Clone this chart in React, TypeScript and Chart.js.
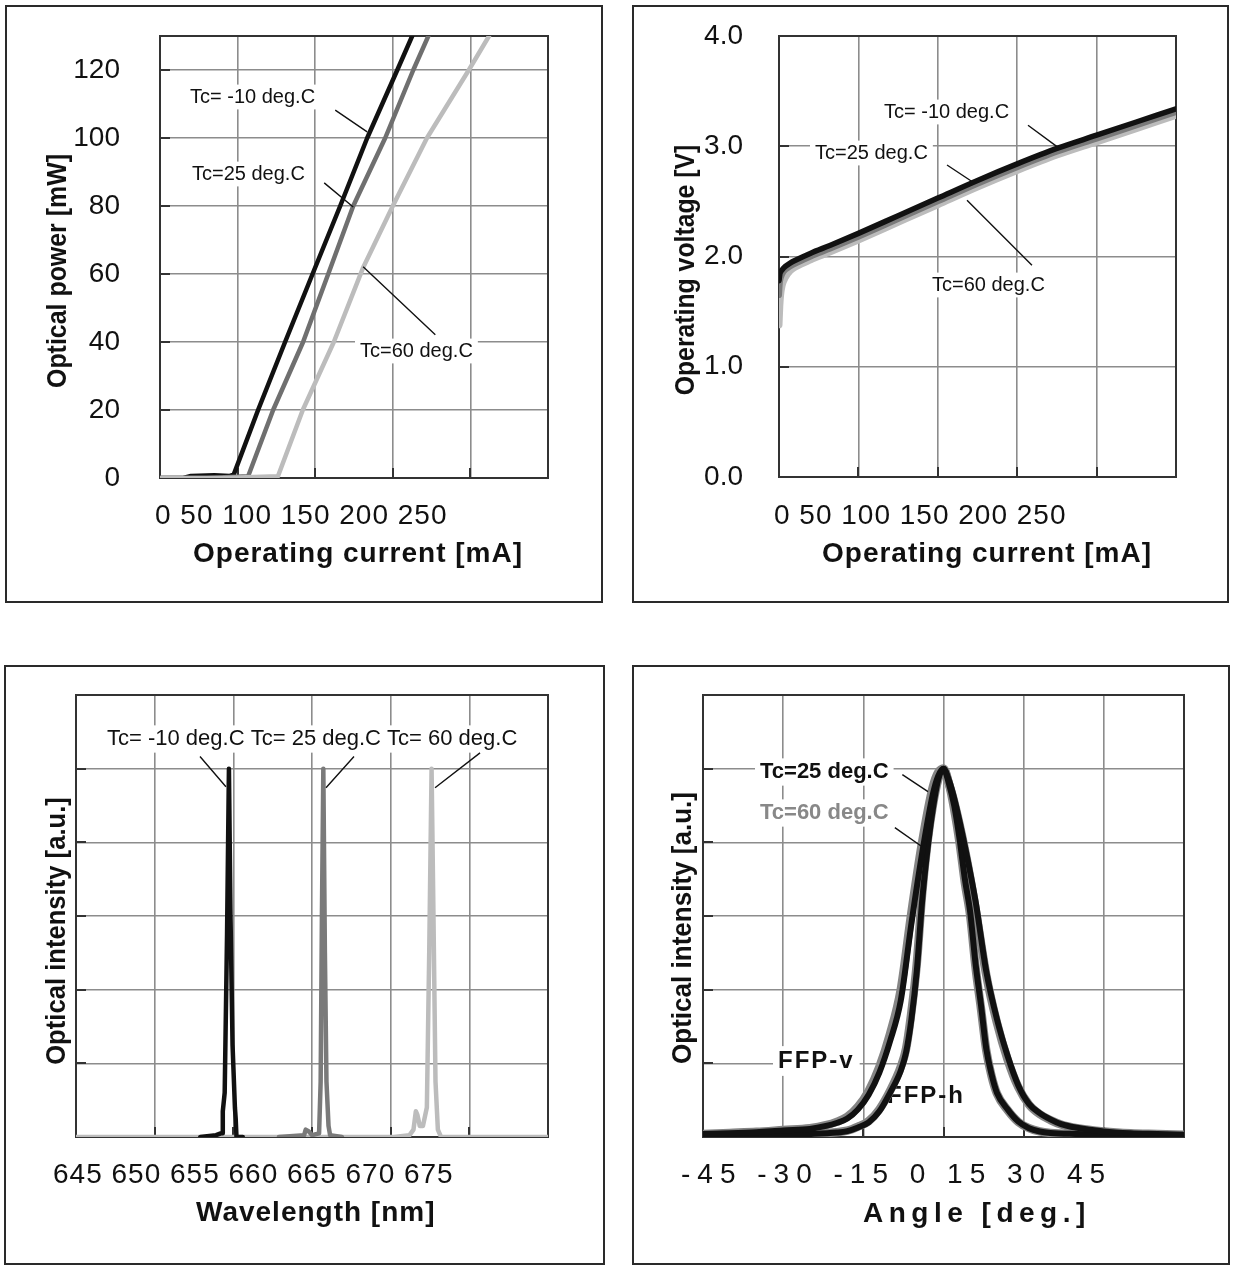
import React, { useEffect, useRef } from 'react';
import { Chart, registerables } from 'chart.js';

Chart.register(...registerables);

const FAMILY = "'Liberation Sans', Arial, sans-serif";
Chart.defaults.font.family = FAMILY;

// ---------- Panel 1: L-I curves ----------
const liCurrentM10 = [0, 15, 20, 35, 45, 47.5, 63.2, 80.6, 98.3, 116.1, 133.5, 152.9, 162.5];
const liPowerM10 = [0, 0, 0.6, 0.8, 0.6, 1.0, 20, 40, 60, 80, 100, 120, 130];
const liCurrent25 = [0, 30, 56.8, 72.9, 92.2, 108.4, 124.5, 145.1, 163.2, 172.9];
const liPower25 = [0, 0, 0.5, 20, 40, 60, 80, 100, 120, 130];
const liCurrent60 = [0, 40, 76, 92, 112, 131, 150, 172, 199, 212];
const liPower60 = [0, 0, 0.5, 20, 40, 62, 80, 100, 120, 130];
const liXTickText = '0 50 100 150 200 250';

// ---------- Panel 2: V-I curves ----------
const ivCurrent = [0, 0.5, 1, 2, 4, 7, 11, 20, 32, 50, 75, 100, 125, 150, 175, 200, 225, 250];
const ivVoltM10 = [1.78, 1.84, 1.86, 1.88, 1.91, 1.94, 1.97, 2.03, 2.1, 2.21, 2.37, 2.53, 2.69, 2.84, 2.98, 3.1, 3.22, 3.34];
const ivVolt25 = [1.65, 1.76, 1.8, 1.84, 1.88, 1.91, 1.94, 2.0, 2.07, 2.18, 2.34, 2.5, 2.66, 2.81, 2.95, 3.07, 3.19, 3.31];
const ivVolt60 = [1.38, 1.55, 1.65, 1.74, 1.81, 1.87, 1.91, 1.97, 2.04, 2.15, 2.31, 2.47, 2.63, 2.78, 2.92, 3.04, 3.16, 3.28];
const ivXTickText = '0 50 100 150 200 250';

// ---------- Panel 3: spectra ----------
const specWlM10 = [652.9, 653.9, 654.2, 654.3, 654.33, 654.45, 654.6, 654.72, 654.82, 654.95, 655.1, 655.15, 655.2, 655.6];
const specIntM10 = [0, 0.005, 0.01, 0.01, 0.07, 0.12, 0.55, 1.0, 0.6, 0.25, 0.08, 0.05, 0.0, 0];
const specWl25 = [657.9, 659.5, 659.6, 659.8, 660.0, 660.45, 660.55, 660.63, 660.72, 660.82, 660.92, 661.05, 661.15, 661.9];
const specInt25 = [0, 0.005, 0.02, 0.015, 0.005, 0.01, 0.15, 0.6, 1.0, 0.5, 0.15, 0.03, 0.005, 0];
const specWl60 = [645, 665.2, 666.2, 666.45, 666.6, 666.7, 666.85, 667.05, 667.3, 667.45, 667.6, 667.72, 667.85, 668.0, 668.2, 675];
const specInt60 = [0, 0, 0.005, 0.02, 0.07, 0.06, 0.03, 0.03, 0.08, 0.5, 1.0, 0.6, 0.15, 0.02, 0, 0];
const specXTickText = '645 650 655 660 665 670 675';

// ---------- Panel 4: far field patterns ----------
const ffpVAngle = [-45, -40, -35, -30, -25, -22, -20, -18, -16, -14, -12, -10, -8, -6, -4, -2, -1, 0, 1, 2, 4, 6, 8, 10, 12, 14, 16, 18, 20, 22, 25, 30, 35, 40, 45];
const ffpV25 = [0.008, 0.01, 0.013, 0.018, 0.022, 0.03, 0.038, 0.05, 0.075, 0.115, 0.175, 0.26, 0.37, 0.58, 0.77, 0.93, 0.98, 1.0, 0.97, 0.92, 0.79, 0.64, 0.45, 0.32, 0.22, 0.14, 0.09, 0.065, 0.048, 0.035, 0.025, 0.015, 0.01, 0.008, 0.006];
const ffpV60 = [0.008, 0.011, 0.014, 0.019, 0.024, 0.032, 0.041, 0.055, 0.082, 0.125, 0.19, 0.28, 0.4, 0.61, 0.8, 0.95, 0.99, 1.0, 0.96, 0.91, 0.78, 0.62, 0.44, 0.31, 0.21, 0.135, 0.088, 0.062, 0.046, 0.034, 0.024, 0.015, 0.01, 0.008, 0.006];
const ffpHAngle = [-45, -35, -30, -25, -20, -18, -16, -14, -12, -10, -8, -7, -6, -5, -4, -3, -2, -1, 0, 1, 2, 3, 4, 5, 6, 7, 8, 9, 10, 12, 14, 16, 18, 20, 25, 30, 35, 45];
const ffpH25 = [0.004, 0.005, 0.006, 0.008, 0.012, 0.016, 0.026, 0.04, 0.07, 0.12, 0.18, 0.23, 0.32, 0.45, 0.64, 0.78, 0.89, 0.97, 1.0, 0.96, 0.9, 0.81, 0.7, 0.61, 0.47, 0.36, 0.24, 0.17, 0.12, 0.075, 0.042, 0.024, 0.015, 0.011, 0.008, 0.006, 0.005, 0.004];
const ffpH60 = [0.004, 0.005, 0.006, 0.008, 0.013, 0.017, 0.028, 0.043, 0.075, 0.125, 0.19, 0.24, 0.34, 0.47, 0.66, 0.8, 0.9, 0.97, 1.0, 0.96, 0.89, 0.8, 0.69, 0.6, 0.46, 0.35, 0.235, 0.165, 0.118, 0.073, 0.041, 0.024, 0.015, 0.011, 0.008, 0.006, 0.005, 0.004];
const ffpXTickText = '-45 -30 -15 0 15 30 45';

const BLACK = '#111111';
const LIGHT = '#bcbcbc';

const pts = (xs: number[], ys: number[]) => xs.map((x, i) => ({ x, y: ys[i] }));

type TextSpec = {
  t: string; x: number; y: number; size: number; bold?: boolean; color?: string;
  bg?: boolean; ls?: number; rot?: boolean; sx?: number;
};

type PanelSpec = {
  box: [number, number, number, number];
  plot: [number, number, number, number];
  x: { min: number; max: number; step: number };
  y: { min: number; max: number; step: number; labels: boolean; padding?: number; hideMax?: boolean; fixed?: number };
  datasets: any[];
  texts: TextSpec[];
  textsBelow?: TextSpec[];
  leaders: [number, number, number, number][];
};

function drawText(ctx: CanvasRenderingContext2D, s: TextSpec, ox: number, oy: number) {
  ctx.save();
  ctx.font = `${s.bold ? 'bold ' : ''}${s.size}px ${FAMILY}`;
  (ctx as any).letterSpacing = `${s.ls || 0}px`;
  const color = s.color || BLACK;
  const x = s.x - ox;
  const y = s.y - oy;
  if (s.rot) {
    ctx.translate(x, y);
    ctx.rotate(-Math.PI / 2);
    ctx.scale(s.sx || 1, 1);
    ctx.textAlign = 'center';
    ctx.textBaseline = 'alphabetic';
    ctx.fillStyle = color;
    ctx.fillText(s.t, 0, 0);
  } else {
    ctx.textAlign = 'left';
    ctx.textBaseline = 'middle';
    if (s.bg) {
      const w = ctx.measureText(s.t).width;
      ctx.fillStyle = '#ffffff';
      ctx.fillRect(x - 5, y - s.size * 0.62, w + 10, s.size * 1.24);
    }
    ctx.fillStyle = color;
    ctx.fillText(s.t, x, y);
  }
  ctx.restore();
}

function decorPlugin(spec: PanelSpec, ox: number, oy: number) {
  return {
    id: 'panelDecor',
    beforeDatasetsDraw(chart: any) {
      const { ctx, chartArea: a, scales } = chart;
      ctx.save();
      ctx.strokeStyle = '#333';
      ctx.lineWidth = 2;
      ctx.beginPath();
      scales.y.ticks.forEach((t: any) => {
        if (t.value > scales.y.min && t.value < scales.y.max) {
          const py = Math.round(scales.y.getPixelForValue(t.value));
          ctx.moveTo(a.left, py);
          ctx.lineTo(a.left + 10, py);
        }
      });
      scales.x.ticks.forEach((t: any) => {
        if (t.value > scales.x.min && t.value < scales.x.max) {
          const px = Math.round(scales.x.getPixelForValue(t.value));
          ctx.moveTo(px, a.bottom);
          ctx.lineTo(px, a.bottom - 10);
        }
      });
      ctx.stroke();
      ctx.strokeRect(a.left, a.top, a.right - a.left, a.bottom - a.top);
      (spec.textsBelow || []).forEach((s) => drawText(ctx, s, ox, oy));
      ctx.restore();
    },
    afterDatasetsDraw(chart: any) {
      const { ctx, scales, chartArea: a } = chart;
      if (spec.y.labels) {
        ctx.save();
        ctx.font = `28px ${FAMILY}`;
        ctx.fillStyle = BLACK;
        ctx.textAlign = 'right';
        ctx.textBaseline = 'middle';
        scales.y.ticks.forEach((t: any) => {
          if (spec.y.hideMax && t.value === spec.y.max) return;
          const label = spec.y.fixed !== undefined ? Number(t.value).toFixed(spec.y.fixed) : String(t.value);
          ctx.fillText(label, a.left - (spec.y.padding || 0), scales.y.getPixelForValue(t.value));
        });
        ctx.restore();
      }
      spec.texts.forEach((s) => drawText(ctx, s, ox, oy));
      ctx.save();
      ctx.strokeStyle = '#111';
      ctx.lineWidth = 1.4;
      ctx.beginPath();
      spec.leaders.forEach(([x1, y1, x2, y2]) => {
        ctx.moveTo(scales.x.getPixelForValue(x1), scales.y.getPixelForValue(y1));
        ctx.lineTo(scales.x.getPixelForValue(x2), scales.y.getPixelForValue(y2));
      });
      ctx.stroke();
      ctx.restore();
    },
  };
}

function buildConfig(spec: PanelSpec): any {
  const ox = spec.box[0] + 2;
  const oy = spec.box[1] + 2;
  const W = spec.box[2] - 4;
  const H = spec.box[3] - 4;
  const [pl, pt, pr, pb] = spec.plot;
  const grid = { color: '#8c8c8c', lineWidth: 1.6, drawTicks: false };
  return {
    type: 'line',
    data: { datasets: spec.datasets },
    options: {
      responsive: false,
      maintainAspectRatio: false,
      animation: false,
      events: [],
      layout: { padding: { left: 0, top: pt - oy, right: ox + W - pr, bottom: 0 } },
      plugins: { legend: { display: false }, tooltip: { enabled: false }, title: { display: false } },
      elements: { point: { radius: 0 }, line: { borderJoinStyle: 'round', borderCapStyle: 'round' } },
      scales: {
        x: {
          type: 'linear',
          min: spec.x.min,
          max: spec.x.max,
          ticks: { stepSize: spec.x.step, display: false },
          grid,
          border: { display: false },
          afterFit: (s: any) => { s.height = oy + H - pb; },
        },
        y: {
          type: 'linear',
          min: spec.y.min,
          max: spec.y.max,
          ticks: { stepSize: spec.y.step, display: false },
          grid,
          border: { display: false },
          afterFit: (s: any) => { s.width = pl - ox; },
        },
      },
    },
    plugins: [decorPlugin(spec, ox, oy)],
  };
}

const line = (data: any[], color: string, width: number, order: number, extra: any = {}) => ({
  data, borderColor: color, backgroundColor: color, borderWidth: width, fill: false, pointRadius: 0, order, ...extra,
});

const panels: PanelSpec[] = [
  {
    box: [5, 5, 598, 598],
    plot: [160, 36, 548, 478],
    x: { min: 0, max: 250, step: 50 },
    y: { min: 0, max: 130, step: 20, labels: true, padding: 40, hideMax: true },
    datasets: [
      line(pts(liCurrent60, liPower60), LIGHT, 4.5, 0),
      line(pts(liCurrent25, liPower25), '#6f6f6f', 4.5, 1),
      line(pts(liCurrentM10, liPowerM10), BLACK, 4.5, 2),
    ],
    texts: [
      { t: liXTickText, x: 155, y: 516, size: 28, ls: 1 },
      { t: 'Operating current [mA]', x: 193, y: 554, size: 28, bold: true, ls: 1 },
      { t: 'Optical power [mW]', x: 66, y: 271, size: 28, bold: true, rot: true, sx: 0.89 },
      { t: 'Tc= -10 deg.C', x: 190, y: 97, size: 20, bg: true },
      { t: 'Tc=25 deg.C', x: 192, y: 174, size: 20, bg: true },
      { t: 'Tc=60 deg.C', x: 360, y: 351, size: 20, bg: true },
    ],
    leaders: [
      [112.9, 108.2, 133.5, 101.8],
      [105.8, 86.8, 124.5, 79.7],
      [130.9, 62.1, 177.4, 42.1],
    ],
  },
  {
    box: [632, 5, 597, 598],
    plot: [779, 36, 1176, 477],
    x: { min: 0, max: 250, step: 50 },
    y: { min: 0, max: 4, step: 1, labels: true, padding: 36, fixed: 1 },
    datasets: [
      line(pts(ivCurrent, ivVoltM10), BLACK, 5.5, 0, { cubicInterpolationMode: 'monotone' }),
      line(pts(ivCurrent, ivVolt25), '#7a7a7a', 6, 1, { cubicInterpolationMode: 'monotone' }),
      line(pts(ivCurrent, ivVolt60), LIGHT, 7, 2, { cubicInterpolationMode: 'monotone' }),
    ],
    texts: [
      { t: ivXTickText, x: 774, y: 516, size: 28, ls: 1 },
      { t: 'Operating current [mA]', x: 822, y: 554, size: 28, bold: true, ls: 1 },
      { t: 'Operating voltage [V]', x: 694, y: 270, size: 28, bold: true, rot: true, sx: 0.885 },
      { t: 'Tc= -10 deg.C', x: 884, y: 112, size: 20, bg: true },
      { t: 'Tc=25 deg.C', x: 815, y: 153, size: 20, bg: true },
      { t: 'Tc=60 deg.C', x: 932, y: 285, size: 20, bg: true },
    ],
    leaders: [
      [156.8, 3.19, 175.7, 2.99],
      [105.8, 2.83, 121.5, 2.68],
      [118.4, 2.51, 159.3, 1.92],
    ],
  },
  {
    box: [4, 665, 601, 600],
    plot: [76, 695, 548, 1137],
    x: { min: 645, max: 675, step: 5 },
    y: { min: 0, max: 1.2, step: 0.2, labels: false },
    datasets: [
      line(pts(specWlM10, specIntM10), BLACK, 4.5, 0),
      line(pts(specWl25, specInt25), '#7a7a7a', 4.5, 1),
      line(pts(specWl60, specInt60), LIGHT, 4.5, 2),
    ],
    texts: [
      { t: specXTickText, x: 53, y: 1175, size: 28, ls: 1 },
      { t: 'Wavelength [nm]', x: 196, y: 1213, size: 28, bold: true, ls: 1 },
      { t: 'Optical intensity [a.u.]', x: 65, y: 931, size: 28, bold: true, rot: true, sx: 0.915 },
      { t: 'Tc= -10 deg.C Tc= 25 deg.C Tc= 60 deg.C', x: 107, y: 739, size: 22, bg: true },
    ],
    leaders: [
      [652.88, 1.033, 654.53, 0.951],
      [662.67, 1.033, 660.89, 0.948],
      [670.68, 1.043, 667.82, 0.948],
    ],
  },
  {
    box: [632, 665, 598, 600],
    plot: [703, 695, 1184, 1137],
    x: { min: -45, max: 45, step: 15 },
    y: { min: 0, max: 1.2, step: 0.2, labels: false },
    datasets: [
      line(pts(ffpVAngle, ffpV25), BLACK, 6, 0, { cubicInterpolationMode: 'monotone' }),
      line(pts(ffpHAngle, ffpH25), BLACK, 6, 1, { cubicInterpolationMode: 'monotone' }),
      line(pts(ffpVAngle, ffpV60), '#858585', 8.5, 2, { cubicInterpolationMode: 'monotone' }),
      line(pts(ffpHAngle, ffpH60), '#858585', 8.5, 3, { cubicInterpolationMode: 'monotone' }),
    ],
    textsBelow: [
      { t: 'FFP-h', x: 887, y: 1096, size: 24, bold: true, ls: 2 },
    ],
    texts: [
      { t: ffpXTickText, x: 681, y: 1175, size: 28, ls: 7 },
      { t: 'Angle [deg.]', x: 863, y: 1214, size: 28, bold: true, ls: 5.5 },
      { t: 'Optical intensity [a.u.]', x: 691, y: 928, size: 28, bold: true, rot: true, sx: 0.93 },
      { t: 'Tc=25 deg.C', x: 760, y: 772, size: 22, bold: true, bg: true },
      { t: 'Tc=60 deg.C', x: 760, y: 813, size: 22, bold: true, bg: true, color: '#888888' },
      { t: 'FFP-v', x: 778, y: 1061, size: 24, bold: true, ls: 2, bg: true },
    ],
    leaders: [
      [-7.7, 0.984, -2.9, 0.9375],
      [-9.1, 0.84, -4.0, 0.788],
    ],
  },
];

function Panel({ spec }: { spec: PanelSpec }) {
  const ref = useRef<HTMLCanvasElement>(null);
  useEffect(() => {
    if (!ref.current) return;
    const chart = new Chart(ref.current, buildConfig(spec));
    return () => chart.destroy();
  }, [spec]);
  const [l, t, w, h] = spec.box;
  return (
    <div
      style={{
        position: 'absolute', left: l, top: t, width: w, height: h,
        border: '2px solid #2a2a2a', boxSizing: 'border-box', background: '#fff',
      }}
    >
      <canvas ref={ref} width={w - 4} height={h - 4} style={{ display: 'block', width: w - 4, height: h - 4 }} />
    </div>
  );
}

export default function App() {
  return (
    <div style={{ position: 'absolute', left: 0, top: 0, width: 1252, height: 1279, background: '#fff' }}>
      {panels.map((p, i) => (
        <Panel key={i} spec={p} />
      ))}
    </div>
  );
}
